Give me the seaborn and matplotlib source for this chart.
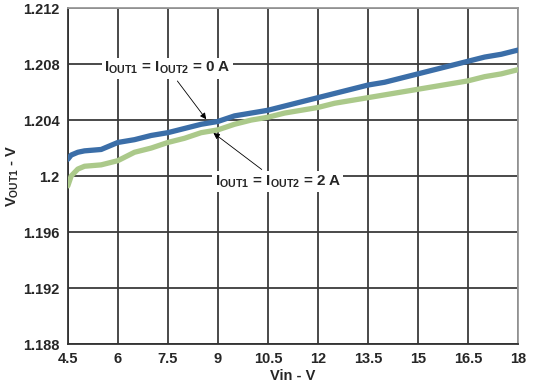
import matplotlib
matplotlib.use("Agg")
import matplotlib.pyplot as plt
import numpy as np
import pandas as pd
import seaborn as sns

vin = [4.5, 4.6, 4.8, 5.0, 5.5, 6.0, 6.5, 7.0, 7.5, 8.0, 8.5, 9.0, 9.5, 10.0, 10.5,
       11.0, 11.5, 12.0, 12.5, 13.0, 13.5, 14.0, 14.5, 15.0, 15.5, 16.0, 16.5, 17.0, 17.5, 18.0]
vout_0a = [1.2012, 1.2015, 1.2017, 1.2018, 1.2019, 1.2024, 1.2026, 1.2029, 1.2031, 1.2034, 1.2037, 1.2039,
           1.2043, 1.2045, 1.2047, 1.2050, 1.2053, 1.2056, 1.2059, 1.2062, 1.2065, 1.2067, 1.2070, 1.2073,
           1.2076, 1.2079, 1.2082, 1.2085, 1.2087, 1.2090]
vout_2a = [1.1993, 1.2000, 1.2005, 1.2007, 1.2008, 1.2011, 1.2017, 1.2020, 1.2024, 1.2027, 1.2031, 1.2033,
           1.2037, 1.2040, 1.2042, 1.2045, 1.2047, 1.2049, 1.2052, 1.2054, 1.2056, 1.2058, 1.2060, 1.2062,
           1.2064, 1.2066, 1.2068, 1.2071, 1.2073, 1.2076]
x_ticks = [4.5, 6, 7.5, 9, 10.5, 12, 13.5, 15, 16.5, 18]
x_tick_labels = ["4.5", "6", "7.5", "9", "10.5", "12", "13.5", "15", "16.5", "18"]
y_ticks = [1.188, 1.192, 1.196, 1.2, 1.204, 1.208, 1.212]
y_tick_labels = ["1.188", "1.192", "1.196", "1.2", "1.204", "1.208", "1.212"]

df = pd.DataFrame({
    "Vin": vin * 2,
    "Vout": vout_0a + vout_2a,
    "load": ["0 A"] * len(vin) + ["2 A"] * len(vin),
})

sns.set_style("white")
plt.rcParams["font.family"] = ["Liberation Sans", "DejaVu Sans"]
plt.rcParams["font.weight"] = "bold"
plt.rcParams["mathtext.fontset"] = "custom"
plt.rcParams["mathtext.rm"] = "Liberation Sans:bold"
plt.rcParams["mathtext.it"] = "Liberation Sans:bold"
plt.rcParams["mathtext.bf"] = "Liberation Sans:bold"

fig, ax = plt.subplots(figsize=(5.34, 3.84), dpi=100)
fig.subplots_adjust(left=0.127, right=0.970, top=0.979, bottom=0.104)

sns.lineplot(data=df, x="Vin", y="Vout", hue="load",
             palette={"0 A": "#3b6ea8", "2 A": "#abc98a"},
             linewidth=3.8, legend=False, ax=ax, zorder=3)

ax.set_xlim(4.5, 18)
ax.set_ylim(1.188, 1.212)
ax.set_xticks(x_ticks)
ax.set_xticklabels(x_tick_labels)
ax.set_yticks(y_ticks)
ax.set_yticklabels(y_tick_labels)
ax.tick_params(labelsize=10.5, length=0, pad=6)
for lbl in ax.get_xticklabels() + ax.get_yticklabels():
    lbl.set_fontweight("bold")

ax.grid(True, color="#3a3a3a", linewidth=1.3, zorder=0)
for side in ["left", "bottom"]:
    ax.spines[side].set_color("#333333")
    ax.spines[side].set_linewidth(1.3)
for side in ["top", "right"]:
    ax.spines[side].set_color("#999999")
    ax.spines[side].set_linewidth(1.3)

ax.set_xlabel("Vin - V", fontsize=10.5, fontweight="bold", labelpad=2)
ax.set_ylabel(r"V$_{\rm OUT1}$ - V", fontsize=10.5, fontweight="bold")
ax.yaxis.set_label_coords(-0.105, 0.5)

bbox = dict(boxstyle="square,pad=0.15", fc="white", ec="none")
arrow = dict(arrowstyle="-|>", color="black", lw=0.6, mutation_scale=9)
ax.annotate(r"I$_{\rm OUT1}$ = I$_{\rm OUT2}$ = 0 A", xy=(8.7, 1.2039), xytext=(5.6, 1.2077),
            fontsize=11, fontweight="bold", ha="left", va="center", bbox=bbox,
            arrowprops=arrow, zorder=5)
ax.annotate(r"I$_{\rm OUT1}$ = I$_{\rm OUT2}$ = 2 A", xy=(8.8, 1.2032), xytext=(8.9, 1.1996),
            fontsize=11, fontweight="bold", ha="left", va="center", bbox=bbox,
            arrowprops=arrow, zorder=5)

fig.savefig("out.png", dpi=100)
